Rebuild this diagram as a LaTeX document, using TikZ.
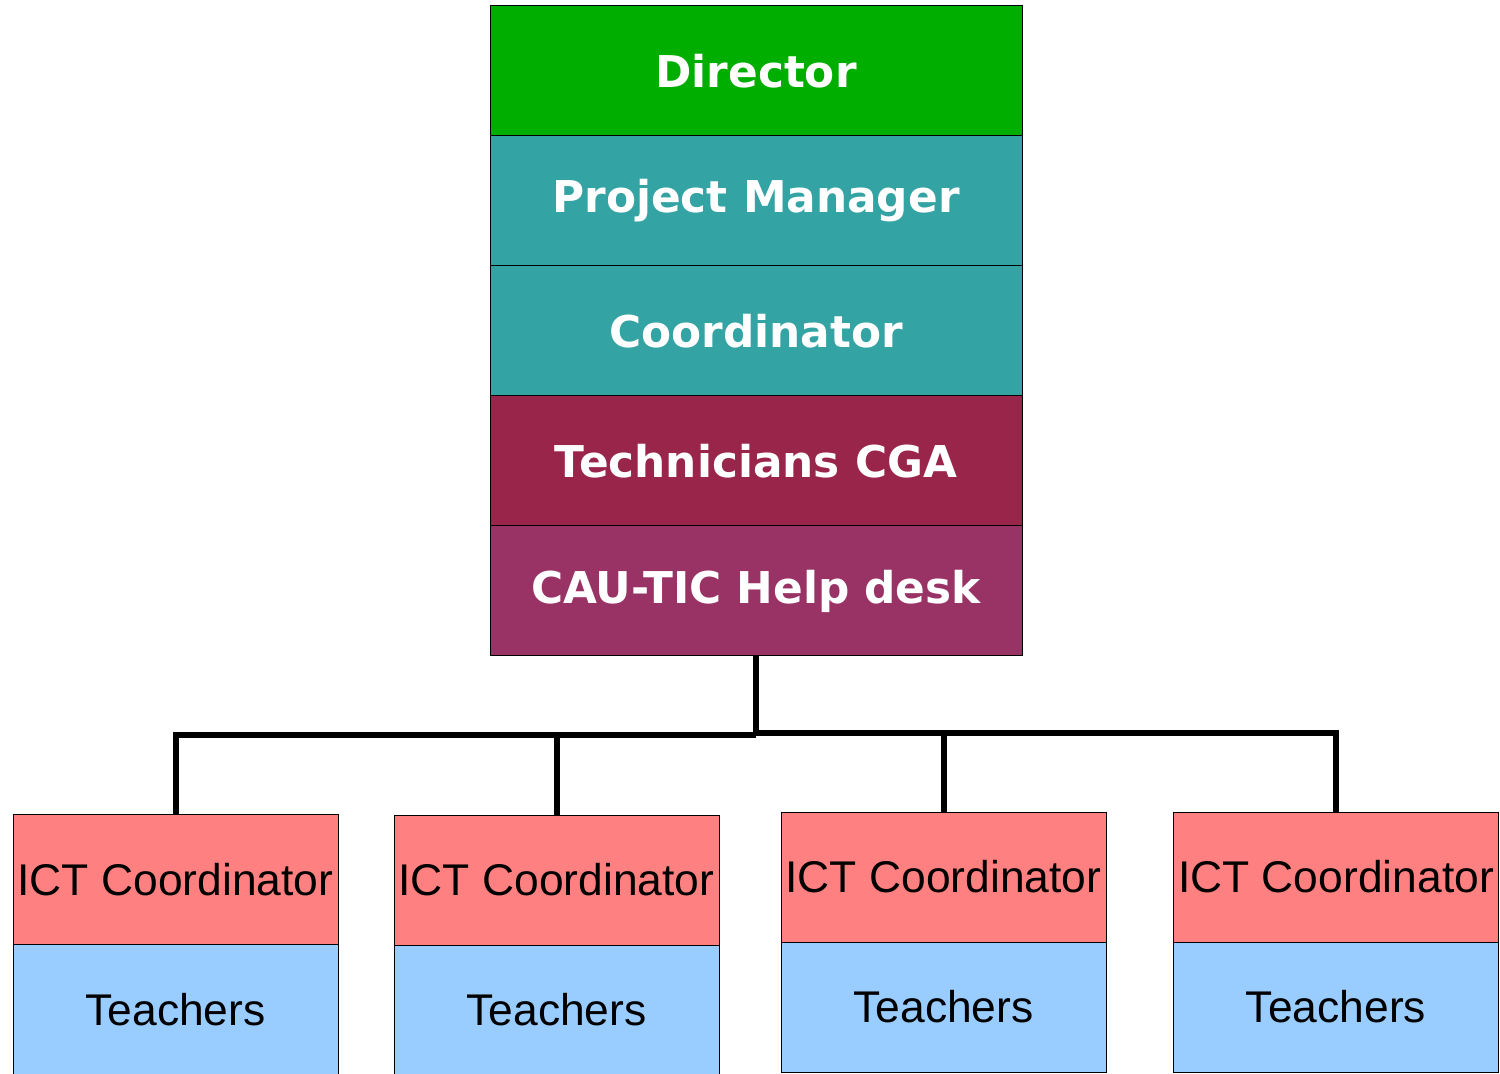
\documentclass[tikz,border=0pt]{standalone}
\usepackage{fontspec}
\setmainfont{Liberation Sans}
\newfontfamily\dvb{DejaVu Sans}
\definecolor{dirgreen}{HTML}{00AE00}
\definecolor{teal2}{HTML}{33A3A3}
\definecolor{techred}{HTML}{99264A}
\definecolor{caupurp}{HTML}{993366}
\definecolor{ictred}{HTML}{FF8080}
\definecolor{teachblue}{HTML}{99CCFF}
\begin{document}
\begin{tikzpicture}[x=0.5pt,y=-0.5pt,
  topbox/.style={draw=black,line width=0.5pt,rectangle,inner sep=0pt,outer sep=0pt,
    minimum width=266pt,minimum height=65pt,text=white,font=\dvb\bfseries\fontsize{21.9pt}{25pt}\selectfont},
  botbox/.style={draw=black,line width=0.5pt,rectangle,inner sep=0pt,outer sep=0pt,
    minimum width=162.5pt,minimum height=65pt,text=black,font=\fontsize{22.2pt}{26pt}\selectfont},
  conn/.style={draw=black,line width=3pt}]
\useasboundingbox (0,0) rectangle (1500,1074);
\fill[white] (0,0) rectangle (1500,1074);
% top column
\node[topbox,fill=dirgreen] (dir) at (756,71) {Director};
\node[topbox,fill=teal2] (pm) at (756,201) {Project Manager};
\node[topbox,fill=teal2] (coord) at (756,331) {Coordinator};
\node[topbox,fill=techred] (tech) at (756,461) {Technicians CGA};
\node[topbox,fill=caupurp] (cau) at (756,591) {CAU-TIC Help desk};
% bottom boxes
\node[botbox,fill=ictred] (ict1) at (175.5,879.5) {ICT Coordinator};
\node[botbox,fill=teachblue] (t1) at (175.5,1009.5) {Teachers};
\node[botbox,fill=ictred] (ict2) at (556.5,880) {ICT Coordinator};
\node[botbox,fill=teachblue] (t2) at (556.5,1010) {Teachers};
\node[botbox,fill=ictred] (ict3) at (943.5,877) {ICT Coordinator};
\node[botbox,fill=teachblue] (t3) at (943.5,1007) {Teachers};
\node[botbox,fill=ictred] (ict4) at (1336,877) {ICT Coordinator};
\node[botbox,fill=teachblue] (t4) at (1336,1007) {Teachers};
% connectors
\coordinate (jl) at (756,735);
\coordinate (jr) at (756,733);
\draw[conn] (cau.south) -- (jl);
\draw[conn] (jl) -| (ict1.north);
\draw[conn] (ict2.north) -- (ict2.north |- jl);
\draw[conn] (jr) -| (ict4.north);
\draw[conn] (ict3.north) -- (ict3.north |- jr);
\end{tikzpicture}
\end{document}
